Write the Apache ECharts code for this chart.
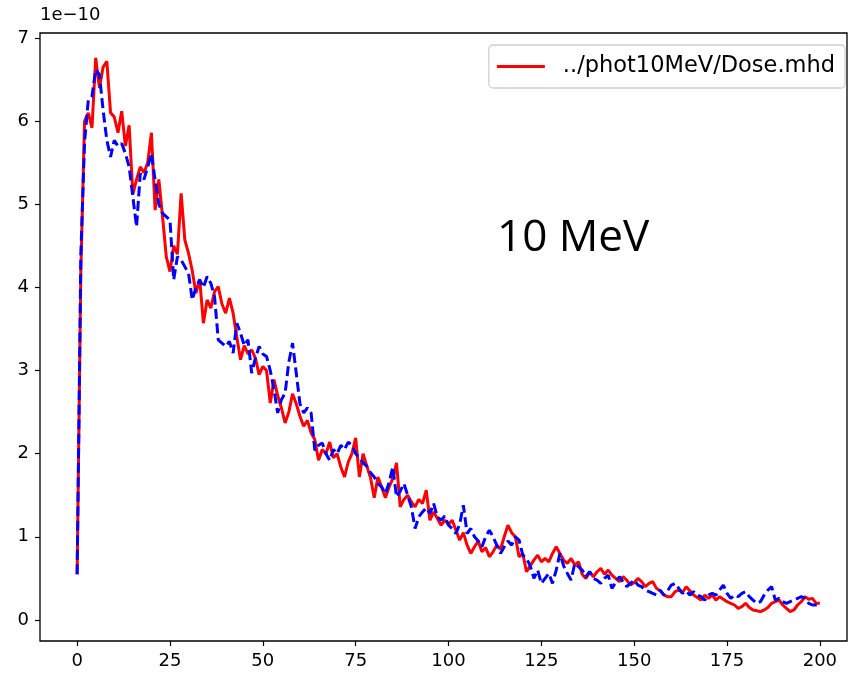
<!DOCTYPE html>
<html>
<head>
<meta charset="utf-8">
<script src="https://cdn.jsdelivr.net/npm/echarts@6/dist/echarts.min.js"></script>
<style>
html,body{margin:0;padding:0;background:#fff;}
#chart{width:850px;height:682px;}
</style>
</head>
<body>
<div id="chart"></div>
<script>
// Depth positions (x) and dose values in units of 1e-10
const redDose = [
0.55,4.2,6.0,6.1,5.92,6.76,6.4,6.65,6.72,6.1,
6.05,5.86,6.12,5.7,5.95,5.12,5.3,5.45,5.38,5.5,
5.86,4.93,5.3,4.85,4.37,4.19,4.5,4.4,5.13,4.57,
4.41,4.2,3.93,4.1,3.57,3.85,3.75,3.95,4.01,3.8,
3.69,3.87,3.69,3.4,3.13,3.3,3.2,3.25,3.15,2.95,
3.05,3.0,2.61,2.89,2.7,2.55,2.37,2.5,2.72,2.6,
2.45,2.33,2.4,2.25,2.17,1.92,2.05,2.0,2.14,1.95,
2.0,1.84,1.72,1.9,2.0,2.19,1.72,2.0,1.85,1.71,
1.47,1.72,1.6,1.47,1.6,1.7,1.89,1.36,1.45,1.5,
1.42,1.36,1.45,1.4,1.56,1.2,1.3,1.22,1.14,1.2,
1.15,1.2,1.08,0.96,1.05,0.9,0.8,0.88,0.95,0.82,
0.87,0.76,0.82,0.9,0.85,1.0,1.14,1.05,1.0,0.76,
0.8,0.58,0.65,0.72,0.78,0.7,0.74,0.7,0.8,0.88,
0.8,0.72,0.68,0.74,0.66,0.7,0.55,0.5,0.58,0.52,
0.58,0.62,0.55,0.6,0.54,0.5,0.46,0.52,0.48,0.42,
0.45,0.5,0.46,0.4,0.44,0.46,0.38,0.35,0.3,0.28,
0.28,0.34,0.36,0.33,0.4,0.35,0.3,0.27,0.24,0.3,
0.26,0.3,0.24,0.28,0.25,0.22,0.2,0.18,0.14,0.16,
0.2,0.15,0.12,0.11,0.1,0.12,0.15,0.2,0.22,0.24,
0.18,0.14,0.1,0.12,0.18,0.22,0.28,0.25,0.26,0.2,
0.2
];
const blueDose = [
0.55,4.4,5.75,6.25,6.3,6.62,6.56,6.13,5.77,5.57,
5.77,5.7,5.73,5.61,5.45,5.09,4.73,5.37,5.3,5.45,
5.61,5.29,5.0,4.89,4.85,4.81,4.09,4.37,4.33,4.25,
4.17,3.85,4.0,4.09,4.0,4.13,4.05,3.89,3.37,3.33,
3.29,3.35,3.21,3.57,3.45,3.3,3.37,2.97,3.15,3.29,
3.2,3.17,3.0,2.77,2.49,2.65,2.73,3.1,3.33,2.97,
2.6,2.49,2.55,2.49,2.04,2.1,2.13,2.0,1.92,2.05,
2.0,2.1,2.05,2.14,2.1,2.0,1.95,1.89,1.85,1.77,
1.72,1.64,1.6,1.52,1.65,1.84,1.48,1.55,1.64,1.5,
1.36,1.1,1.24,1.3,1.35,1.28,1.4,1.24,1.2,1.25,
1.14,1.1,1.04,1.15,1.38,1.04,1.1,1.0,0.95,0.88,
1.0,1.08,1.0,0.9,0.8,0.88,0.95,0.9,1.0,0.96,
0.78,0.74,0.65,0.5,0.6,0.44,0.5,0.56,0.44,0.6,
0.8,0.65,0.56,0.48,0.68,0.64,0.6,0.52,0.58,0.5,
0.48,0.44,0.5,0.54,0.38,0.45,0.52,0.46,0.4,0.44,
0.48,0.42,0.4,0.36,0.34,0.32,0.3,0.36,0.3,0.35,
0.42,0.44,0.38,0.32,0.35,0.3,0.34,0.3,0.28,0.24,
0.3,0.32,0.3,0.36,0.42,0.32,0.26,0.3,0.28,0.32,
0.34,0.28,0.24,0.2,0.22,0.3,0.36,0.4,0.24,0.26,
0.22,0.2,0.22,0.24,0.26,0.28,0.26,0.2,0.18,0.18,
0.18
];
const depth = redDose.map((_, i) => i);
const xTicks = [0, 25, 50, 75, 100, 125, 150, 175, 200];
const yTicks = [0, 1, 2, 3, 4, 5, 6, 7];
const legendName = '../phot10MeV/Dose.mhd';
const exponentLabel = '1e\u221210';
const annotation = '10 MeV';

const chart = echarts.init(document.getElementById('chart'), null, {renderer: 'canvas'});
const font = 'DejaVu Sans';
chart.setOption({
  animation: false,
  backgroundColor: '#fff',
  grid: {left: 40, right: 3, top: 33, bottom: 41, show: true, borderColor: '#000', borderWidth: 1.3, containLabel: false},
  legend: {
    data: [{name: legendName, icon: 'rect'}], right: 5, top: 45,
    itemWidth: 48, itemHeight: 3,
    padding: [8, 10, 8, 8],
    borderColor: '#d0d0d0', borderWidth: 1.3, borderRadius: 4,
    textStyle: {fontFamily: font, fontSize: 22.5, lineHeight: 27, color: '#000', padding: [0, 0, 0, 13]}
  },
  xAxis: {
    type: 'value', min: -10, max: 207.3,
    axisLine: {show: false, onZero: false},
    splitLine: {show: false},
    axisTick: {show: true, length: 5, lineStyle: {color: '#000', width: 1.2}, customValues: xTicks, inside: false},
    axisLabel: {customValues: xTicks, fontFamily: font, fontSize: 18, color: '#000', margin: 11}
  },
  yAxis: {
    type: 'value', min: -0.253, max: 7.06,
    axisLine: {show: false, onZero: false},
    splitLine: {show: false},
    axisTick: {show: true, length: 5, lineStyle: {color: '#000', width: 1.2}, customValues: yTicks, inside: false},
    axisLabel: {customValues: yTicks, fontFamily: font, fontSize: 18, color: '#000', margin: 11}
  },
  graphic: [
    {type: 'text', left: 40, top: 6, style: {text: exponentLabel, font: '18px "DejaVu Sans"', fill: '#000'}},
    {type: 'text', left: 497, top: 216, style: {text: annotation, font: '44px "Open Sans"', fill: '#000'}}
  ],
  series: [
    {
      name: legendName, type: 'line', symbol: 'none', showSymbol: false,
      data: depth.map((x, i) => [x, redDose[i]]),
      lineStyle: {color: '#ff0000', width: 3}, itemStyle: {color: '#ff0000'}
    },
    {
      name: 'blue', type: 'line', symbol: 'none', showSymbol: false,
      data: depth.map((x, i) => [x, blueDose[i]]),
      lineStyle: {color: '#0000ff', width: 3, type: [10, 4.5]}, itemStyle: {color: '#0000ff'}
    }
  ]
});
</script>
</body>
</html>
